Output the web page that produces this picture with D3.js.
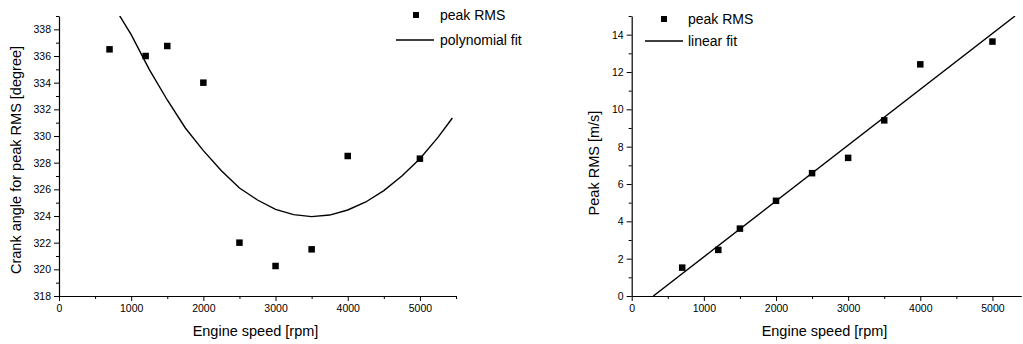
<!DOCTYPE html>
<html><head><meta charset="utf-8">
<script src="https://cdn.jsdelivr.net/npm/d3@7"></script>
<style>
body{margin:0;background:#fff;}
svg{display:block;font-family:"Liberation Sans",Arial,sans-serif;}
</style></head>
<body>
<svg id="c" width="1023" height="344"></svg>
<script>
// Left chart data
const speedL = [700, 1200, 1500, 2000, 2500, 3000, 3500, 4000, 5000];
const crankAngle = [336.5, 336.0, 336.75, 334.0, 322.0, 320.25, 321.5, 328.5, 328.3];
const polyFitX = [820, 1000, 1250, 1500, 1750, 2000, 2250, 2500, 2750, 3000, 3250, 3500, 3750, 4000, 4250, 4500, 4750, 5000, 5250, 5450];
const polyFitY = [339.2, 337.6, 335.0, 332.7, 330.6, 328.9, 327.4, 326.1, 325.2, 324.5, 324.1, 323.95, 324.07, 324.45, 325.05, 325.9, 327.0, 328.3, 329.9, 331.35];
const xTicksL = [0, 1000, 2000, 3000, 4000, 5000];
const yTicksL = [318, 320, 322, 324, 326, 328, 330, 332, 334, 336, 338];

// Right chart data
const speedR = [700, 1200, 1500, 2000, 2500, 3000, 3500, 4000, 5000];
const peakRMS = [1.52, 2.47, 3.61, 5.1, 6.58, 7.4, 9.41, 12.41, 13.63];
const linFitX = [300, 5313];
const linFitY = [0, 15];
const xTicksR = [0, 1000, 2000, 3000, 4000, 5000];
const yTicksR = [0, 2, 4, 6, 8, 10, 12, 14];

const svg = d3.select("#c");
const FONT = "Liberation Sans, Arial, sans-serif";

function drawChart(o) {
  const g = svg.append("g");
  const x = d3.scaleLinear().domain(o.xDom).range(o.xRange);
  const y = d3.scaleLinear().domain(o.yDom).range([296, 16]);
  const clipId = "clip" + o.id;
  svg.append("clipPath").attr("id", clipId).append("rect")
    .attr("x", o.xRange[0]).attr("y", 16)
    .attr("width", o.xRange[1] - o.xRange[0]).attr("height", 280);

  // minor ticks
  const xMinor = d3.range(500, o.xDom[1] + 1, 1000);
  const yMinor = d3.range(o.yDom[0] + 1, o.yDom[1] + 0.01, 2);
  g.append("g").attr("transform", "translate(0,296)")
    .call(d3.axisBottom(x).tickValues(xMinor).tickSize(3).tickFormat(""))
    .call(a => a.select(".domain").remove());
  g.append("g").attr("transform", `translate(${o.xRange[0]},0)`)
    .call(d3.axisLeft(y).tickValues(yMinor).tickSize(3).tickFormat(""))
    .call(a => a.select(".domain").remove());

  // major axes
  const xa = g.append("g").attr("transform", "translate(0,296)")
    .call(d3.axisBottom(x).tickValues(o.xTicks).tickSize(5).tickSizeOuter(0).tickPadding(4).tickFormat(d3.format("d")));
  const ya = g.append("g").attr("transform", `translate(${o.xRange[0]},0)`)
    .call(d3.axisLeft(y).tickValues(o.yTicks).tickSize(5).tickSizeOuter(0).tickPadding(3).tickFormat(d3.format("d")));
  [xa, ya].forEach(a => {
    a.selectAll("text").attr("font-family", FONT).attr("font-size", 10.5).attr("fill", "#000");
    a.selectAll("line").attr("stroke", "#000");
    a.select(".domain").attr("stroke", "#000").attr("stroke-width", 1.2);
  });
  g.selectAll(".tick line").attr("stroke", "#000");

  // titles
  g.append("text").attr("x", (o.xRange[0] + o.xRange[1]) / 2 - 2).attr("y", 336)
    .attr("text-anchor", "middle").attr("font-family", FONT).attr("font-size", 14.5)
    .text("Engine speed [rpm]");
  g.append("text").attr("transform", `translate(${o.yTitleX},${o.yTitleY}) rotate(-90)`)
    .attr("text-anchor", "middle").attr("font-family", FONT).attr("font-size", 14.5)
    .text(o.yTitle);

  // fit line
  const line = d3.line().x(d => x(d[0])).y(d => y(d[1]));
  g.append("path").attr("clip-path", `url(#${clipId})`)
    .datum(d3.zip(o.fitX, o.fitY))
    .attr("d", line).attr("fill", "none").attr("stroke", "#000").attr("stroke-width", 1.4);

  // points
  const s = 6.5;
  g.selectAll("rect.pt").data(d3.zip(o.px, o.py)).join("rect").attr("class", "pt")
    .attr("x", d => x(d[0]) - s / 2).attr("y", d => y(d[1]) - s / 2)
    .attr("width", s).attr("height", s).attr("fill", "#000");

  // legend
  const L = o.legend;
  g.append("rect").attr("x", L.sqX - 3).attr("y", L.y1 - 3).attr("width", 6).attr("height", 6).attr("fill", "#000");
  g.append("text").attr("x", L.tx).attr("y", L.y1).attr("dy", "0.35em")
    .attr("font-family", FONT).attr("font-size", 14).text("peak RMS");
  g.append("line").attr("x1", L.lx1).attr("x2", L.lx2).attr("y1", L.y2).attr("y2", L.y2)
    .attr("stroke", "#000").attr("stroke-width", 1.4);
  g.append("text").attr("x", L.tx).attr("y", L.y2).attr("dy", "0.35em")
    .attr("font-family", FONT).attr("font-size", 14).text(L.label2);
}

drawChart({
  id: "L", xDom: [0, 5500], xRange: [59, 456], yDom: [318, 339],
  xTicks: xTicksL, yTicks: yTicksL,
  px: speedL, py: crankAngle, fitX: polyFitX, fitY: polyFitY,
  yTitle: "Crank angle for peak RMS [degree]", yTitleX: 21, yTitleY: 160,
  legend: { sqX: 416, y1: 15, tx: 440, lx1: 396, lx2: 434, y2: 40, label2: "polynomial fit" }
});
drawChart({
  id: "R", xDom: [0, 5400], xRange: [631.7, 1021.3], yDom: [0, 15],
  xTicks: xTicksR, yTicks: yTicksR,
  px: speedR, py: peakRMS, fitX: linFitX, fitY: linFitY,
  yTitle: "Peak RMS [m/s]", yTitleX: 599, yTitleY: 163,
  legend: { sqX: 664, y1: 19, tx: 688, lx1: 645, lx2: 683, y2: 41, label2: "linear fit" }
});
</script>
</body></html>
